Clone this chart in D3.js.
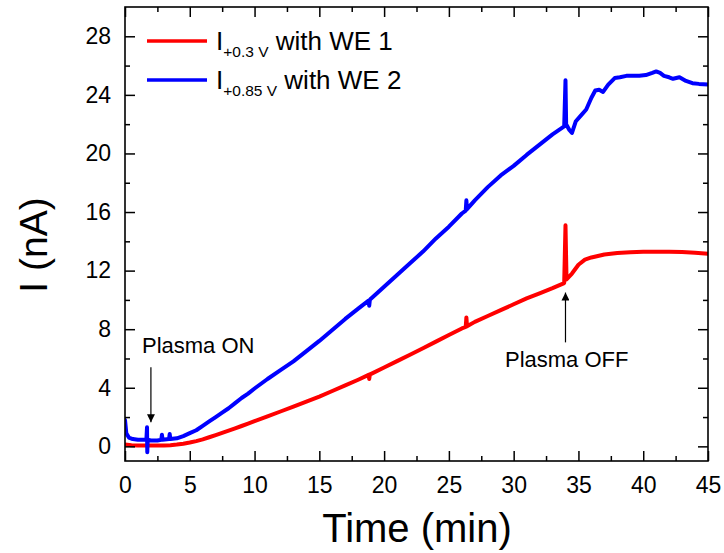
<!DOCTYPE html>
<html>
<head>
<meta charset="utf-8">
<script src="https://cdn.jsdelivr.net/npm/d3@7"></script>
<style>
  html, body { margin: 0; padding: 0; background: #fff; }
  svg { display: block; font-family: "Liberation Sans", Arial, sans-serif; }
</style>
</head>
<body>
<svg id="chart" width="724" height="553"></svg>
<script>
// ---- Data ----
const timeRed = [0,0.5,1,1.5,2,2.5,3,3.5,4,4.5,5,5.5,6,6.5,7,7.5,8,8.5,9,9.5,10,11,12,13,14,15,16,17,18,18.8,18.85,18.9,19,20,21,22,23,24,25,26,26.3,26.35,26.4,27,28,29,30,31,32,33,33.9,34.0,34.08,34.5,35,35.5,36,36.5,37,38,39,40,41,42,43,44,45];
const currentRed = [0.12,0.08,0.06,0.05,0.05,0.05,0.06,0.08,0.12,0.18,0.26,0.36,0.48,0.62,0.77,0.92,1.07,1.23,1.39,1.55,1.72,2.05,2.38,2.72,3.05,3.4,3.78,4.16,4.55,4.88,4.6,4.9,4.95,5.38,5.82,6.26,6.7,7.15,7.6,8.05,8.15,8.8,8.2,8.5,8.9,9.3,9.7,10.1,10.45,10.8,11.15,15.1,11.4,11.8,12.4,12.75,12.9,13.0,13.1,13.2,13.25,13.28,13.28,13.28,13.27,13.22,13.15];

const timeBlue = [0,0.1,0.3,0.6,1,1.5,1.65,1.7,1.72,1.75,2,2.5,2.8,2.85,2.9,3.4,3.45,3.5,4,4.5,5,5.5,6,6.5,7,7.5,8,8.5,9,9.5,10,11,12,13,14,15,16,17,18,18.8,18.85,18.9,19,20,21,22,23,24,25,26,26.3,26.35,26.4,27,28,29,30,31,32,33,33.9,34.0,34.05,34.3,34.5,34.8,35.2,35.6,36.0,36.3,36.6,36.9,37.3,37.8,38.2,38.7,39.2,39.7,40.2,40.7,41,41.3,41.6,42,42.3,42.8,43.3,43.8,44.3,45];
const currentBlue = [1.8,0.9,0.6,0.5,0.45,0.45,0.45,1.3,-0.4,0.45,0.4,0.4,0.45,0.8,0.45,0.5,0.85,0.5,0.55,0.7,0.9,1.1,1.4,1.7,2.0,2.3,2.6,2.95,3.3,3.6,3.95,4.6,5.2,5.8,6.5,7.2,7.95,8.7,9.4,9.95,9.6,10.0,10.1,10.9,11.7,12.5,13.3,14.2,15.0,15.9,16.1,16.8,16.2,16.8,17.7,18.5,19.15,19.9,20.6,21.3,21.85,25.0,22.0,21.6,21.4,22.2,22.6,23.0,23.8,24.3,24.35,24.2,24.7,25.15,25.2,25.3,25.3,25.3,25.35,25.5,25.6,25.5,25.3,25.2,25.1,25.2,24.95,24.8,24.75,24.7];

const xMajorTicks = [0,5,10,15,20,25,30,35,40,45];
const xMinorTicks = [2.5,7.5,12.5,17.5,22.5,27.5,32.5,37.5,42.5];
const yMajorTicks = [0,4,8,12,16,20,24,28];
const yMinorTicks = [2,6,10,14,18,22,26];

const seriesNames = ["+0.3 V", "+0.85 V"];
const seriesSuffix = [" with WE 1", " with WE 2"];
const seriesColors = ["#ff0000", "#0000ff"];

// arrow annotations: time position, arrow start / end in nA
const annotations = [
  { label: "Plasma ON", t: 2.0, from: 5.4, to: 1.65 },
  { label: "Plasma OFF", t: 34.0, from: 7.1, to: 10.5 }
];

// ---- Layout ----
const svg = d3.select("#chart");
const L = 125, R = 708, T = 7, B = 461;
const x = d3.scaleLinear().domain([0, 45]).range([L, R]);
const y = d3.scaleLinear().domain([-1, 30]).range([B, T]);

const defs = svg.append("defs");
defs.append("clipPath").attr("id", "clip").append("rect")
  .attr("x", L).attr("y", T).attr("width", R - L).attr("height", B - T);
defs.append("marker").attr("id", "arrow").attr("viewBox", "0 0 10 10")
  .attr("refX", 10).attr("refY", 5).attr("markerWidth", 14).attr("markerHeight", 8)
  .attr("markerUnits", "userSpaceOnUse").attr("orient", "auto")
  .append("path").attr("d", "M0,0 L10,5 L0,10 Z").attr("fill", "#000");

// ---- Series ----
const line = d3.line().x(d => x(d[0])).y(d => y(d[1]));
const redData = timeRed.map((t, i) => [t, currentRed[i]]);
const blueData = timeBlue.map((t, i) => [t, currentBlue[i]]);
const g = svg.append("g").attr("clip-path", "url(#clip)");
[redData, blueData].forEach((data, i) => {
  g.append("path").datum(data).attr("d", line)
    .attr("fill", "none").attr("stroke", seriesColors[i])
    .attr("stroke-width", 4).attr("stroke-linejoin", "round").attr("stroke-linecap", "round");
});

// ---- Axes (ticks inward, on all four sides) ----
const tickFont = 23;
function addAxis(axisGen, transform, labels) {
  const a = svg.append("g").attr("transform", transform).call(axisGen);
  a.select(".domain").remove();
  a.selectAll("line").attr("stroke", "#000").attr("stroke-width", 1.5);
  if (!labels) a.selectAll("text").remove();
  else a.selectAll("text").attr("font-size", tickFont).attr("fill", "#000")
    .attr("font-family", "Liberation Sans, Arial, sans-serif");
  return a;
}
// bottom
addAxis(d3.axisBottom(x).tickValues(xMajorTicks).tickSize(-10).tickPadding(16).tickFormat(d3.format("d")), `translate(0,${B})`, true);
addAxis(d3.axisBottom(x).tickValues(xMinorTicks).tickSize(-5), `translate(0,${B})`, false);
// top
addAxis(d3.axisTop(x).tickValues(xMajorTicks).tickSize(-10), `translate(0,${T})`, false);
addAxis(d3.axisTop(x).tickValues(xMinorTicks).tickSize(-5), `translate(0,${T})`, false);
// left
addAxis(d3.axisLeft(y).tickValues(yMajorTicks).tickSize(-10).tickPadding(14).tickFormat(d3.format("d")), `translate(${L},0)`, true);
addAxis(d3.axisLeft(y).tickValues(yMinorTicks).tickSize(-5), `translate(${L},0)`, false);
// right
addAxis(d3.axisRight(y).tickValues(yMajorTicks).tickSize(-10), `translate(${R},0)`, false);
addAxis(d3.axisRight(y).tickValues(yMinorTicks).tickSize(-5), `translate(${R},0)`, false);

// frame
svg.append("rect").attr("x", L).attr("y", T).attr("width", R - L).attr("height", B - T)
  .attr("fill", "none").attr("stroke", "#000").attr("stroke-width", 1.6);

// ---- Axis titles ----
svg.append("text").attr("x", 417).attr("y", 542).attr("text-anchor", "middle")
  .attr("font-size", 40).attr("fill", "#000").text("Time (min)");
svg.append("text").attr("transform", `translate(47,${(T + B) / 2 + 11}) rotate(-90)`)
  .attr("text-anchor", "middle").attr("font-size", 39).attr("fill", "#000").text("I (nA)");

// ---- Legend ----
const legend = svg.append("g");
[0, 1].forEach(i => {
  const yy = 41 + i * 39;
  legend.append("line").attr("x1", 147).attr("x2", 207).attr("y1", yy).attr("y2", yy)
    .attr("stroke", seriesColors[i]).attr("stroke-width", 3.5);
  const t = legend.append("text").attr("x", 216).attr("y", yy + 9).attr("font-size", 26).attr("fill", "#000");
  t.append("tspan").text("I");
  t.append("tspan").attr("dy", 7).attr("font-size", 15.5).text(seriesNames[i]);
  t.append("tspan").attr("dy", -7).attr("font-size", 26).text(seriesSuffix[i]);
});

// ---- Annotations ----
svg.append("text").attr("x", 142).attr("y", 353).attr("font-size", 22).attr("fill", "#000").text(annotations[0].label);
svg.append("text").attr("x", 505).attr("y", 367).attr("font-size", 22).attr("fill", "#000").text(annotations[1].label);
annotations.forEach(a => {
  svg.append("line").attr("x1", x(a.t)).attr("x2", x(a.t))
    .attr("y1", y(a.from)).attr("y2", y(a.to))
    .attr("stroke", "#000").attr("stroke-width", 1.2).attr("marker-end", "url(#arrow)");
});
</script>
</body>
</html>
